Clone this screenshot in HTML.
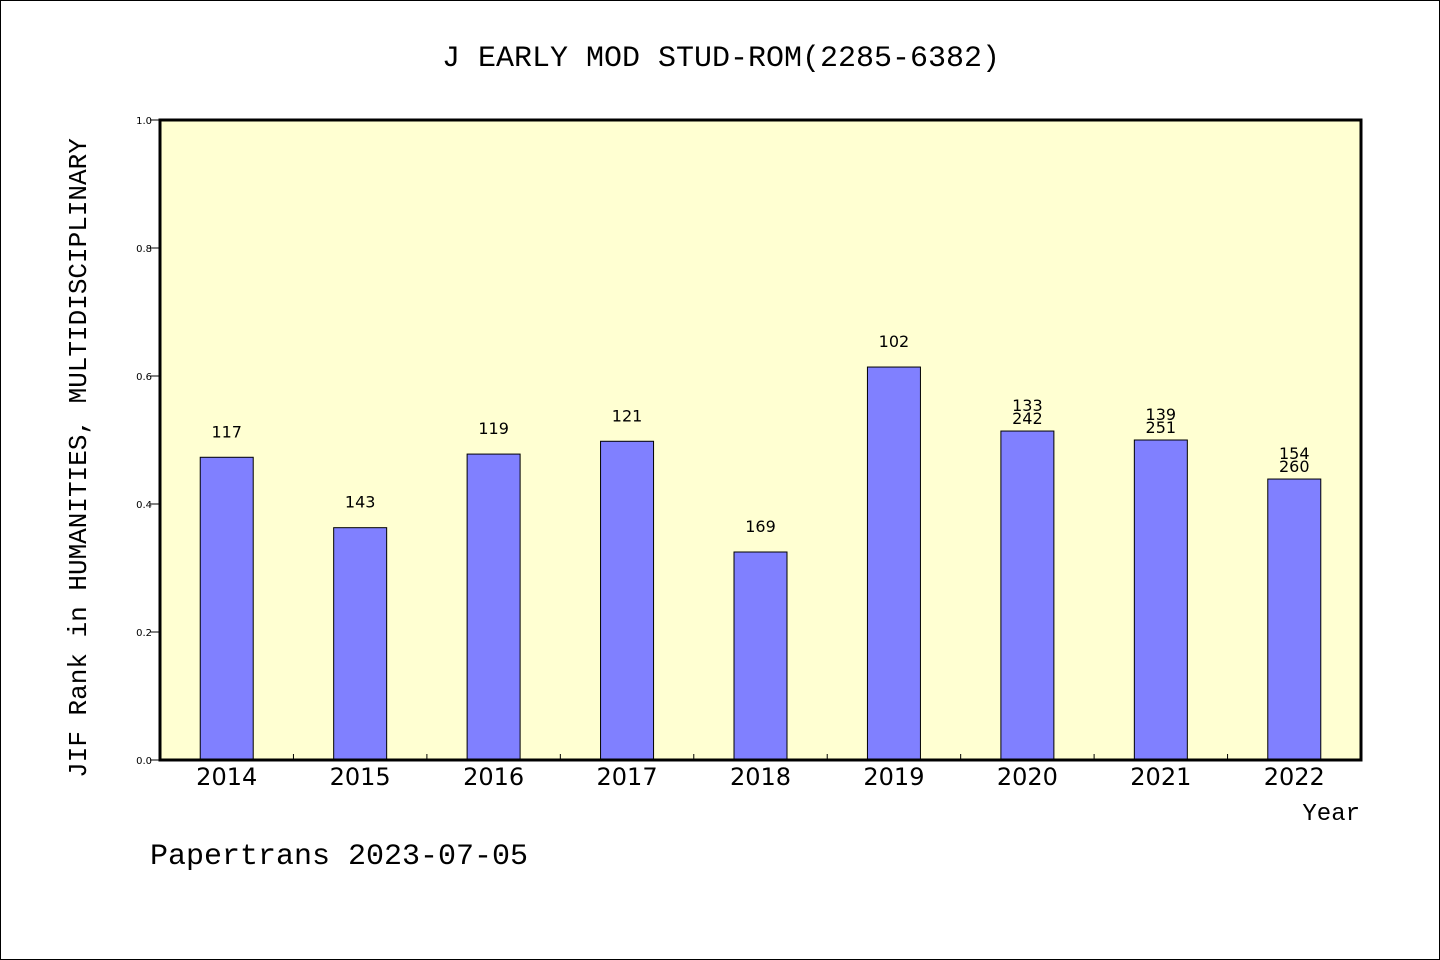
<!DOCTYPE html>
<html><head><meta charset="utf-8"><style>
html,body{margin:0;padding:0;background:#fff}
svg{display:block}
.mono{font-family:"Liberation Mono","DejaVu Sans Mono",monospace}
</style></head><body>
<svg id="chart" width="1440" height="960" xmlns="http://www.w3.org/2000/svg">
<rect x="0.5" y="0.5" width="1439" height="959" fill="#fff" stroke="#000"/>
<text x="721" y="66" text-anchor="middle" font-size="30" class="mono">J EARLY MOD STUD-ROM(2285-6382)</text>
<rect x="160" y="120" width="1201" height="640" fill="#ffffd2"/>
<g id="marks"></g>
<rect x="160" y="120" width="1201" height="640" fill="none" stroke="#000" stroke-width="3"/>
<text transform="translate(86,458) rotate(-90)" text-anchor="middle" font-size="26" class="mono">JIF Rank in HUMANITIES, MULTIDISCIPLINARY</text>
<text x="1360" y="820" text-anchor="end" font-size="24" class="mono">Year</text>
<text x="150" y="864" font-size="30" class="mono">Papertrans 2023-07-05</text>
</svg>
<script>
const categories = ["2014","2015","2016","2017","2018","2019","2020","2021","2022"];
const values = [0.473, 0.363, 0.478, 0.498, 0.325, 0.614, 0.514, 0.500, 0.439];
const labelTop = ["117","143","119","121","169","102","133","139","154"];
const labelBottom = ["","","","","","","242","251","260"];
const yTicks = [0, 0.2, 0.4, 0.6, 0.8, 1.0];
const yTickLabels = ["0.0","0.2","0.4","0.6","0.8","1.0"];

const X0 = 160, X1 = 1361, Y0 = 760, Y1 = 120;
const NS = "http://www.w3.org/2000/svg";
const band = (X1 - X0) / categories.length;
const xc = i => X0 + band * (i + 0.5);
const y = v => Y0 - (v - 0) / (1 - 0) * (Y0 - Y1);
const g = document.getElementById('marks');
function mk(tag, attrs){const e=document.createElementNS(NS,tag);for(const k in attrs)e.setAttribute(k,attrs[k]);g.appendChild(e);return e;}

yTicks.forEach((t,i)=>{
  const ln = mk('line',{x1:X0-10,x2:X0,y1:y(t),y2:y(t),stroke:'#000','stroke-width':1});
  
  
  const tx = mk('text',{x:X0-8,y:y(t)+4,'text-anchor':'end','font-size':10,'font-family':'"DejaVu Sans","Liberation Sans",sans-serif'});
  tx.textContent = yTickLabels[i];
  
  
});
for(let i=1;i<categories.length;i++){
  const x = X0 + band*i;
  const ln = mk('line',{x1:x,x2:x,y1:Y0,y2:Y0-6,stroke:'#000','stroke-width':1});
  
  
}
const bw = 53;
categories.forEach((c,i)=>{
  const top = y(values[i]);
  const r = mk('rect',{x:xc(i)-bw/2,y:top,width:bw,height:Y0-top,fill:'#8080ff',stroke:'#000','stroke-width':1});
  
  
  const two = labelBottom[i] !== "";
  const t1 = mk('text',{x:xc(i),y:two?top-20:top-20,'text-anchor':'middle','font-size':16,'font-family':'"DejaVu Sans","Liberation Sans",sans-serif'});
  t1.textContent = labelTop[i];
  
  
  if(two){
    t1.setAttribute('y', top-20);
    const t2 = mk('text',{x:xc(i),y:top-7,'text-anchor':'middle','font-size':16,'font-family':'"DejaVu Sans","Liberation Sans",sans-serif'});
    t2.textContent = labelBottom[i];
    
    
  }
  const xl = mk('text',{x:xc(i),y:785,'text-anchor':'middle','font-size':24,'font-family':'"DejaVu Sans","Liberation Sans",sans-serif'});
  xl.textContent = c;
  
  
});
</script>
</body></html>
